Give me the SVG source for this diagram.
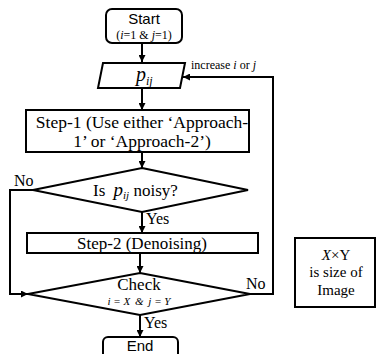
<svg xmlns="http://www.w3.org/2000/svg" width="378" height="354" viewBox="0 0 378 354">
<defs>
<marker id="ah" viewBox="0 0 10 10" refX="10" refY="5" markerWidth="7" markerHeight="7" markerUnits="userSpaceOnUse" orient="auto">
<path d="M0,0 L10,5 L0,10 z" fill="#000"/>
</marker>
<style>
.shp{fill:#fff;stroke:#000;stroke-width:2}
.con{fill:none;stroke:#000;stroke-width:2}
text{font-family:"Liberation Serif","Times New Roman",serif;fill:#000}
text.sn{font-family:"Liberation Sans",Arial,sans-serif}
</style>
</defs>
<rect width="378" height="354" fill="#fff"/>
<g id="connectors">
<line class="con" x1="142" y1="43" x2="142" y2="62" marker-end="url(#ah)"/>
<line class="con" x1="142" y1="88" x2="142" y2="110" marker-end="url(#ah)"/>
<line class="con" x1="142" y1="152" x2="142" y2="168" marker-end="url(#ah)"/>
<line class="con" x1="142" y1="212" x2="142" y2="233" marker-end="url(#ah)"/>
<line class="con" x1="140" y1="253" x2="140" y2="273" marker-end="url(#ah)"/>
<line class="con" x1="140" y1="315" x2="140" y2="337" marker-end="url(#ah)"/>
<polyline class="con" points="33,190 10,190 10,294 28,294" marker-end="url(#ah)"/>
<polyline class="con" points="250,294 273,294 273,77 183,77" marker-end="url(#ah)"/>
<text x="191" y="69" font-size="12">increase <tspan font-style="italic">i</tspan> or <tspan font-style="italic">j</tspan></text>
<text x="14" y="186" font-size="16">No</text>
<text x="146" y="224" font-size="16">Yes</text>
<text x="246" y="289" font-size="16">No</text>
<text x="144" y="328" font-size="16">Yes</text>
</g>
<g id="start">
<rect class="shp" x="106" y="9" width="76" height="34" rx="6" stroke-width="2.5"/>
<text class="sn" x="144" y="24" font-size="15" text-anchor="middle">Start</text>
<text x="144" y="39" font-size="12" text-anchor="middle">(<tspan font-style="italic">i</tspan>=1 &amp; <tspan font-style="italic">j</tspan>=1)</text>
</g>
<g id="pij">
<polygon class="shp" points="103,63 185,63 180,88 98,88"/>
<text x="136" y="81" font-size="20" font-style="italic">p<tspan font-size="12" dy="4">ij</tspan></text>
</g>
<g id="step1">
<rect class="shp" x="26" y="110" width="223" height="42"/>
<text x="142" y="128" font-size="17.5" text-anchor="middle">Step-1 (Use either ‘Approach-</text>
<text x="142" y="147" font-size="17.5" text-anchor="middle">1’ or ‘Approach-2’)</text>
</g>
<g id="noisy">
<polygon class="shp" points="142,168 248,190 142,212 33,190"/>
<text x="93" y="196" font-size="17">Is <tspan font-style="italic" font-size="19" dx="4">p</tspan><tspan font-style="italic" font-size="11" dy="3">ij</tspan><tspan dy="-3"> noisy?</tspan></text>
</g>
<g id="step2">
<rect class="shp" x="27" y="233" width="231" height="20"/>
<text x="142" y="249" font-size="17" text-anchor="middle">Step-2 (Denoising)</text>
</g>
<g id="check">
<polygon class="shp" points="140,273 250,294 140,315 28,294"/>
<text x="139" y="290" font-size="17" text-anchor="middle">Check</text>
<text x="139" y="305" font-size="11" font-style="italic" text-anchor="middle">i = X <tspan dx="2">&amp;</tspan><tspan dx="2"> j = Y</tspan></text>
</g>
<g id="end">
<rect class="shp" x="103" y="337" width="75" height="24" rx="5"/>
<text class="sn" x="140" y="351" font-size="15" text-anchor="middle">End</text>
</g>
<g id="note">
<rect class="shp" x="295" y="238" width="80" height="69"/>
<text x="336" y="260" font-size="15" text-anchor="middle"><tspan font-style="italic">X</tspan>×Y</text>
<text x="336" y="277" font-size="15" text-anchor="middle">is size of</text>
<text x="336" y="295" font-size="15" text-anchor="middle">Image</text>
</g>
</svg>
